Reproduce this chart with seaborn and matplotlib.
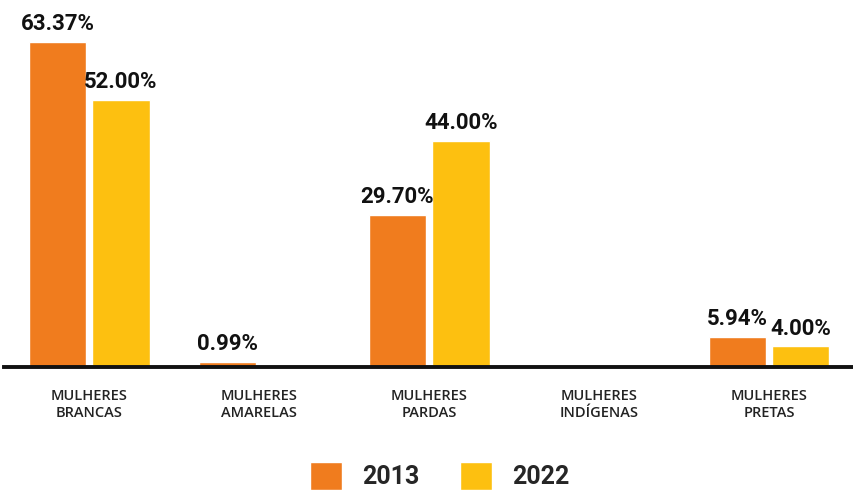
import pandas as pd
import matplotlib
matplotlib.use('Agg')
import matplotlib.pyplot as plt
import seaborn as sns

# Chart data
categories = ['MULHERES\nBRANCAS', 'MULHERES\nAMARELAS', 'MULHERES\nPARDAS',
              'MULHERES\nINDÍGENAS', 'MULHERES\nPRETAS']
years = ['2013', '2022']
values_2013 = [63.37, 0.99, 29.70, 0.0, 5.94]
values_2022 = [52.00, 0.0, 44.00, 0.0, 4.00]

colors = {'2013': '#F07C1E', '2022': '#FDC010'}

df = pd.DataFrame({
    'categoria': categories * 2,
    'ano': ['2013'] * len(categories) + ['2022'] * len(categories),
    'valor': values_2013 + values_2022,
})

sns.set_style('white')
num_font = ['Liberation Sans Narrow', 'Roboto', 'DejaVu Sans']

fig = plt.figure(figsize=(8.54, 4.90), dpi=100)
ax = fig.add_axes([0.005, 0.251, 0.995, 0.749])

sns.barplot(data=df, x='categoria', y='valor', hue='ano', hue_order=years,
            palette=colors, saturation=1, width=0.746, gap=0.095, ax=ax,
            legend=True)

ax.set_xlim(-0.5, 4.5)
ax.set_ylim(0, 71.5)

# Value labels, hidden for zero bars
for container, yr in zip(ax.containers, years):
    vals = values_2013 if yr == '2013' else values_2022
    labels = [f'{v:.2f}%' if v > 0 else '' for v in vals]
    ax.bar_label(container, labels=labels, padding=5, fontsize=16,
                 fontweight='bold', family=num_font, color='#111111')

for side in ['top', 'right', 'left']:
    ax.spines[side].set_visible(False)
ax.spines['bottom'].set_color('#111111')
ax.spines['bottom'].set_linewidth(2.8)

ax.set_yticks([])
ax.set_xlabel('')
ax.set_ylabel('')
ax.tick_params(axis='x', length=0, pad=16)
for lbl in ax.get_xticklabels():
    lbl.set_fontfamily(['Open Sans', 'DejaVu Sans'])
    lbl.set_fontsize(10.5)
    lbl.set_fontweight('semibold')
    lbl.set_color('#222222')
    lbl.set_linespacing(1.25)

handles, labs = ax.get_legend_handles_labels()
ax.get_legend().remove()
fig.legend(handles, labs, loc='lower center', bbox_to_anchor=(0.515, -0.045),
           ncol=2, frameon=False, handlelength=1.3, handleheight=1.3,
           handletextpad=0.8, columnspacing=1.6,
           prop={'family': num_font, 'weight': 'bold', 'size': 18})

fig.savefig('out.png', dpi=100)
